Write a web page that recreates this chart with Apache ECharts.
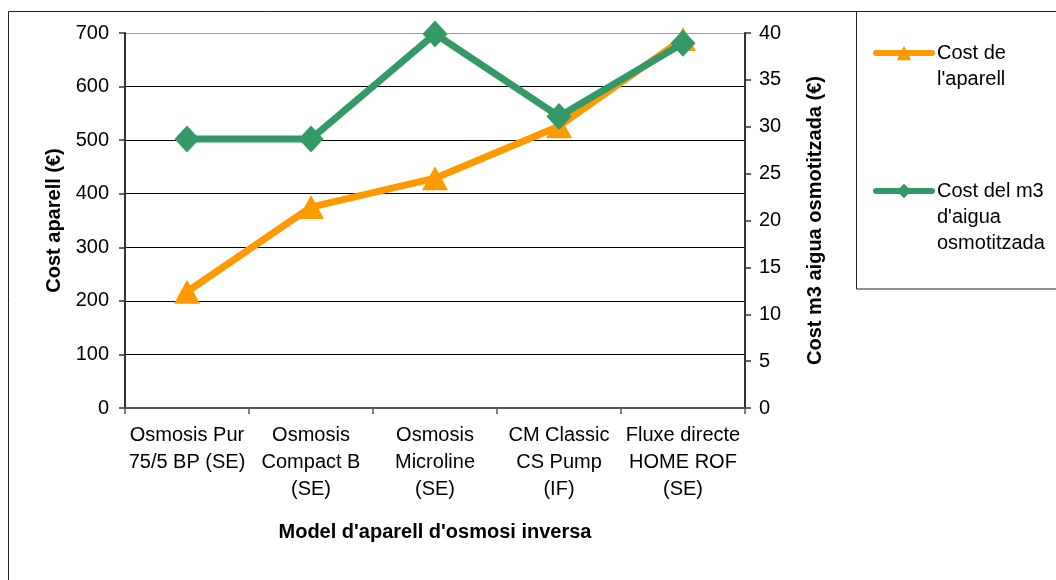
<!DOCTYPE html>
<html>
<head>
<meta charset="utf-8">
<script src="https://cdn.jsdelivr.net/npm/echarts@6/dist/echarts.min.js"></script>
<style>
html,body{margin:0;padding:0;background:#fff;}
#chart{width:1056px;height:580px;}
</style>
</head>
<body>
<div id="chart"></div>
<script>
const categories = [
  "Osmosis Pur\n75/5 BP (SE)",
  "Osmosis\nCompact B\n(SE)",
  "Osmosis\nMicroline\n(SE)",
  "CM Classic\nCS Pump\n(IF)",
  "Fluxe directe\nHOME ROF\n(SE)"
];
const costAparell = [217, 375, 429, 526, 689];
const costM3 = [28.7, 28.7, 39.9, 31.1, 38.9];
const seriesNames = ["Cost de l'aparell", "Cost del m3 d'aigua osmotitzada"];
const legendLabels = ["\nCost de\nl'aparell", "\n\nCost del m3\nd'aigua\nosmotitzada"];
const leftTicks = {min: 0, max: 700, interval: 100};
const rightTicks = {min: 0, max: 40, interval: 5};

const FONT = "Liberation Sans, Arial, sans-serif";
const chart = echarts.init(document.getElementById('chart'), null, {renderer: 'canvas'});

const legendBase = {
  orient: 'vertical',
  left: 873,
  padding: 0,
  itemWidth: 56,
  itemHeight: 18,
  selectedMode: false,
  lineStyle: {width: 6, cap: 'round'},
  textStyle: {fontFamily: FONT, fontSize: 20, color: '#000', lineHeight: 26},
  formatter: function (name) { return legendLabels[seriesNames.indexOf(name)]; }
};

chart.setOption({
  animation: false,
  backgroundColor: '#fff',
  textStyle: {fontFamily: FONT},
  graphic: [
    {type: 'rect', shape: {x: 8.5, y: 11.5, width: 1200, height: 800},
     style: {fill: 'none', stroke: '#222', lineWidth: 1}, z: 0},
    {type: 'rect', shape: {x: 856.5, y: 11.5, width: 300, height: 277.5},
     style: {fill: 'none', stroke: '#222', lineWidth: 1}, z: 0}
  ],
  grid: {left: 125, top: 33, width: 620, height: 375, containLabel: false},
  legend: [
    Object.assign({}, legendBase, {top: 14, data: [seriesNames[0]]}),
    Object.assign({}, legendBase, {top: 126, data: [seriesNames[1]]})
  ],
  xAxis: {
    type: 'category',
    data: categories,
    boundaryGap: true,
    name: "Model d'aparell d'osmosi inversa",
    nameLocation: 'middle',
    nameGap: 114,
    nameTextStyle: {fontFamily: FONT, fontSize: 20, fontWeight: 'bold', color: '#000'},
    axisLine: {lineStyle: {color: '#555', width: 2}},
    axisTick: {show: true, alignWithLabel: false, interval: 0, length: 6, lineStyle: {color: '#555', width: 1.5}},
    axisLabel: {interval: 0, fontFamily: FONT, fontSize: 20, lineHeight: 27, color: '#000', margin: 14}
  },
  yAxis: [
    {
      type: 'value',
      position: 'left',
      min: leftTicks.min, max: leftTicks.max, interval: leftTicks.interval,
      name: 'Cost aparell (€)',
      nameLocation: 'middle',
      nameRotate: 90,
      nameGap: 58,
      nameTextStyle: {fontFamily: FONT, fontSize: 20, fontWeight: 'bold', color: '#000'},
      axisLine: {show: true, lineStyle: {color: '#333', width: 2}},
      axisTick: {show: true, length: 6, lineStyle: {color: '#333', width: 1.5}},
      axisLabel: {fontFamily: FONT, fontSize: 20, color: '#000', margin: 16},
      splitLine: {show: true, lineStyle: {color: ['#000', '#000', '#000', '#000', '#000', '#000', '#000', '#999'], width: 1}}
    },
    {
      type: 'value',
      position: 'right',
      min: rightTicks.min, max: rightTicks.max, interval: rightTicks.interval,
      name: 'Cost m3 aigua osmotitzada (€)',
      nameLocation: 'middle',
      nameRotate: 90,
      nameGap: 60,
      nameTextStyle: {fontFamily: FONT, fontSize: 20, fontWeight: 'bold', color: '#000'},
      axisLine: {show: true, lineStyle: {color: '#333', width: 2}},
      axisTick: {show: true, length: 6, lineStyle: {color: '#333', width: 1.5}},
      axisLabel: {fontFamily: FONT, fontSize: 20, color: '#000', margin: 14},
      splitLine: {show: false}
    }
  ],
  series: [
    {
      name: seriesNames[0],
      type: 'line',
      yAxisIndex: 0,
      data: costAparell,
      color: '#FF9900',
      lineStyle: {width: 7, color: '#FF9900'},
      symbol: 'triangle',
      symbolSize: [26, 24],
      itemStyle: {color: '#FF9900'},
      z: 3
    },
    {
      name: seriesNames[1],
      type: 'line',
      yAxisIndex: 1,
      data: costM3,
      color: '#339966',
      lineStyle: {width: 7, color: '#339966'},
      symbol: 'diamond',
      symbolSize: [25, 27],
      itemStyle: {color: '#339966'},
      z: 4
    }
  ]
});
</script>
</body>
</html>
